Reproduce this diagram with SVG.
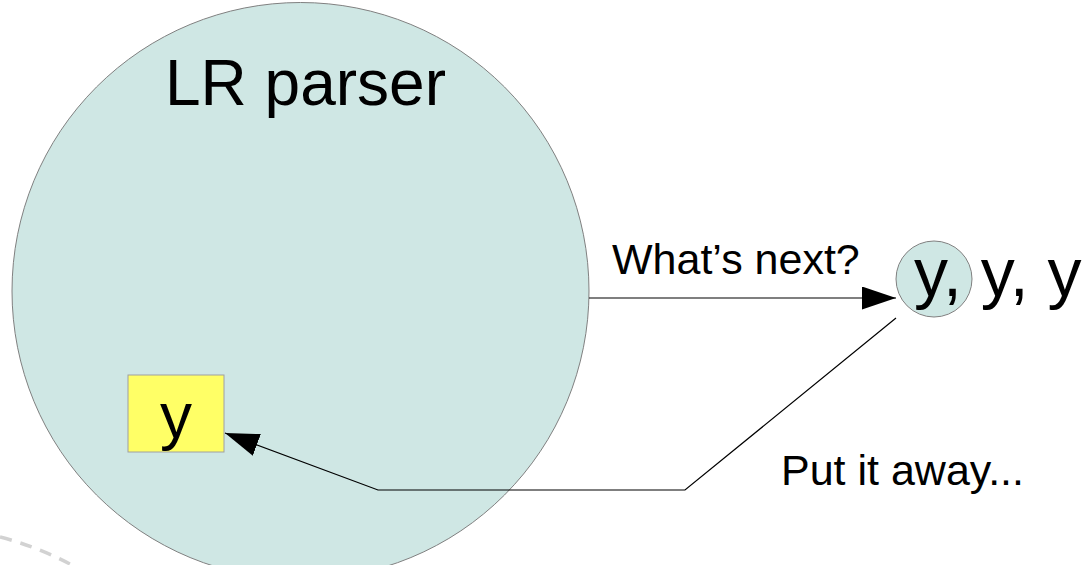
<svg xmlns="http://www.w3.org/2000/svg" width="1083" height="565" viewBox="0 0 1083 565">
<style>
text{font-family:"Liberation Sans",Arial,sans-serif;fill:#000}
.bubble{fill:#cfe7e4;stroke:#808080;stroke-width:1}
.conn{fill:none;stroke:#000;stroke-width:1.2}
</style>
<defs>
<marker id="arr" markerUnits="userSpaceOnUse" markerWidth="36" markerHeight="24" refX="34" refY="11.5" orient="auto" viewBox="0 0 36 24">
<path d="M0,0 L34,11.5 L0,23 z" fill="#000"/>
</marker>
</defs>
<path d="M0,537 Q38,547 70,564" fill="none" stroke="#d2d2d2" stroke-width="3.5" stroke-dasharray="12,9"/>
<g id="parser">
<circle class="bubble" cx="300.5" cy="291" r="288.5"/>
<text x="165" y="105" font-size="64">LR parser</text>
</g>
<g id="token">
<rect x="128" y="375" width="96" height="77" fill="#ffff66" stroke="#a0a0a0" stroke-width="1"/>
<text x="176" y="438" font-size="64" text-anchor="middle">y</text>
</g>
<g id="input">
<circle class="bubble" cx="934" cy="279" r="38"/>
<text x="914" y="296" font-size="68">y, y, y</text>
</g>
<g id="connectors">
<line class="conn" x1="589" y1="298" x2="896" y2="298" marker-end="url(#arr)"/>
<polyline class="conn" points="896,318 685,490 378,490 225,433" marker-end="url(#arr)"/>
</g>
<g id="labels">
<text x="612" y="274" font-size="43">What’s next?</text>
<text x="781" y="485" font-size="43">Put it away...</text>
</g>
</svg>
